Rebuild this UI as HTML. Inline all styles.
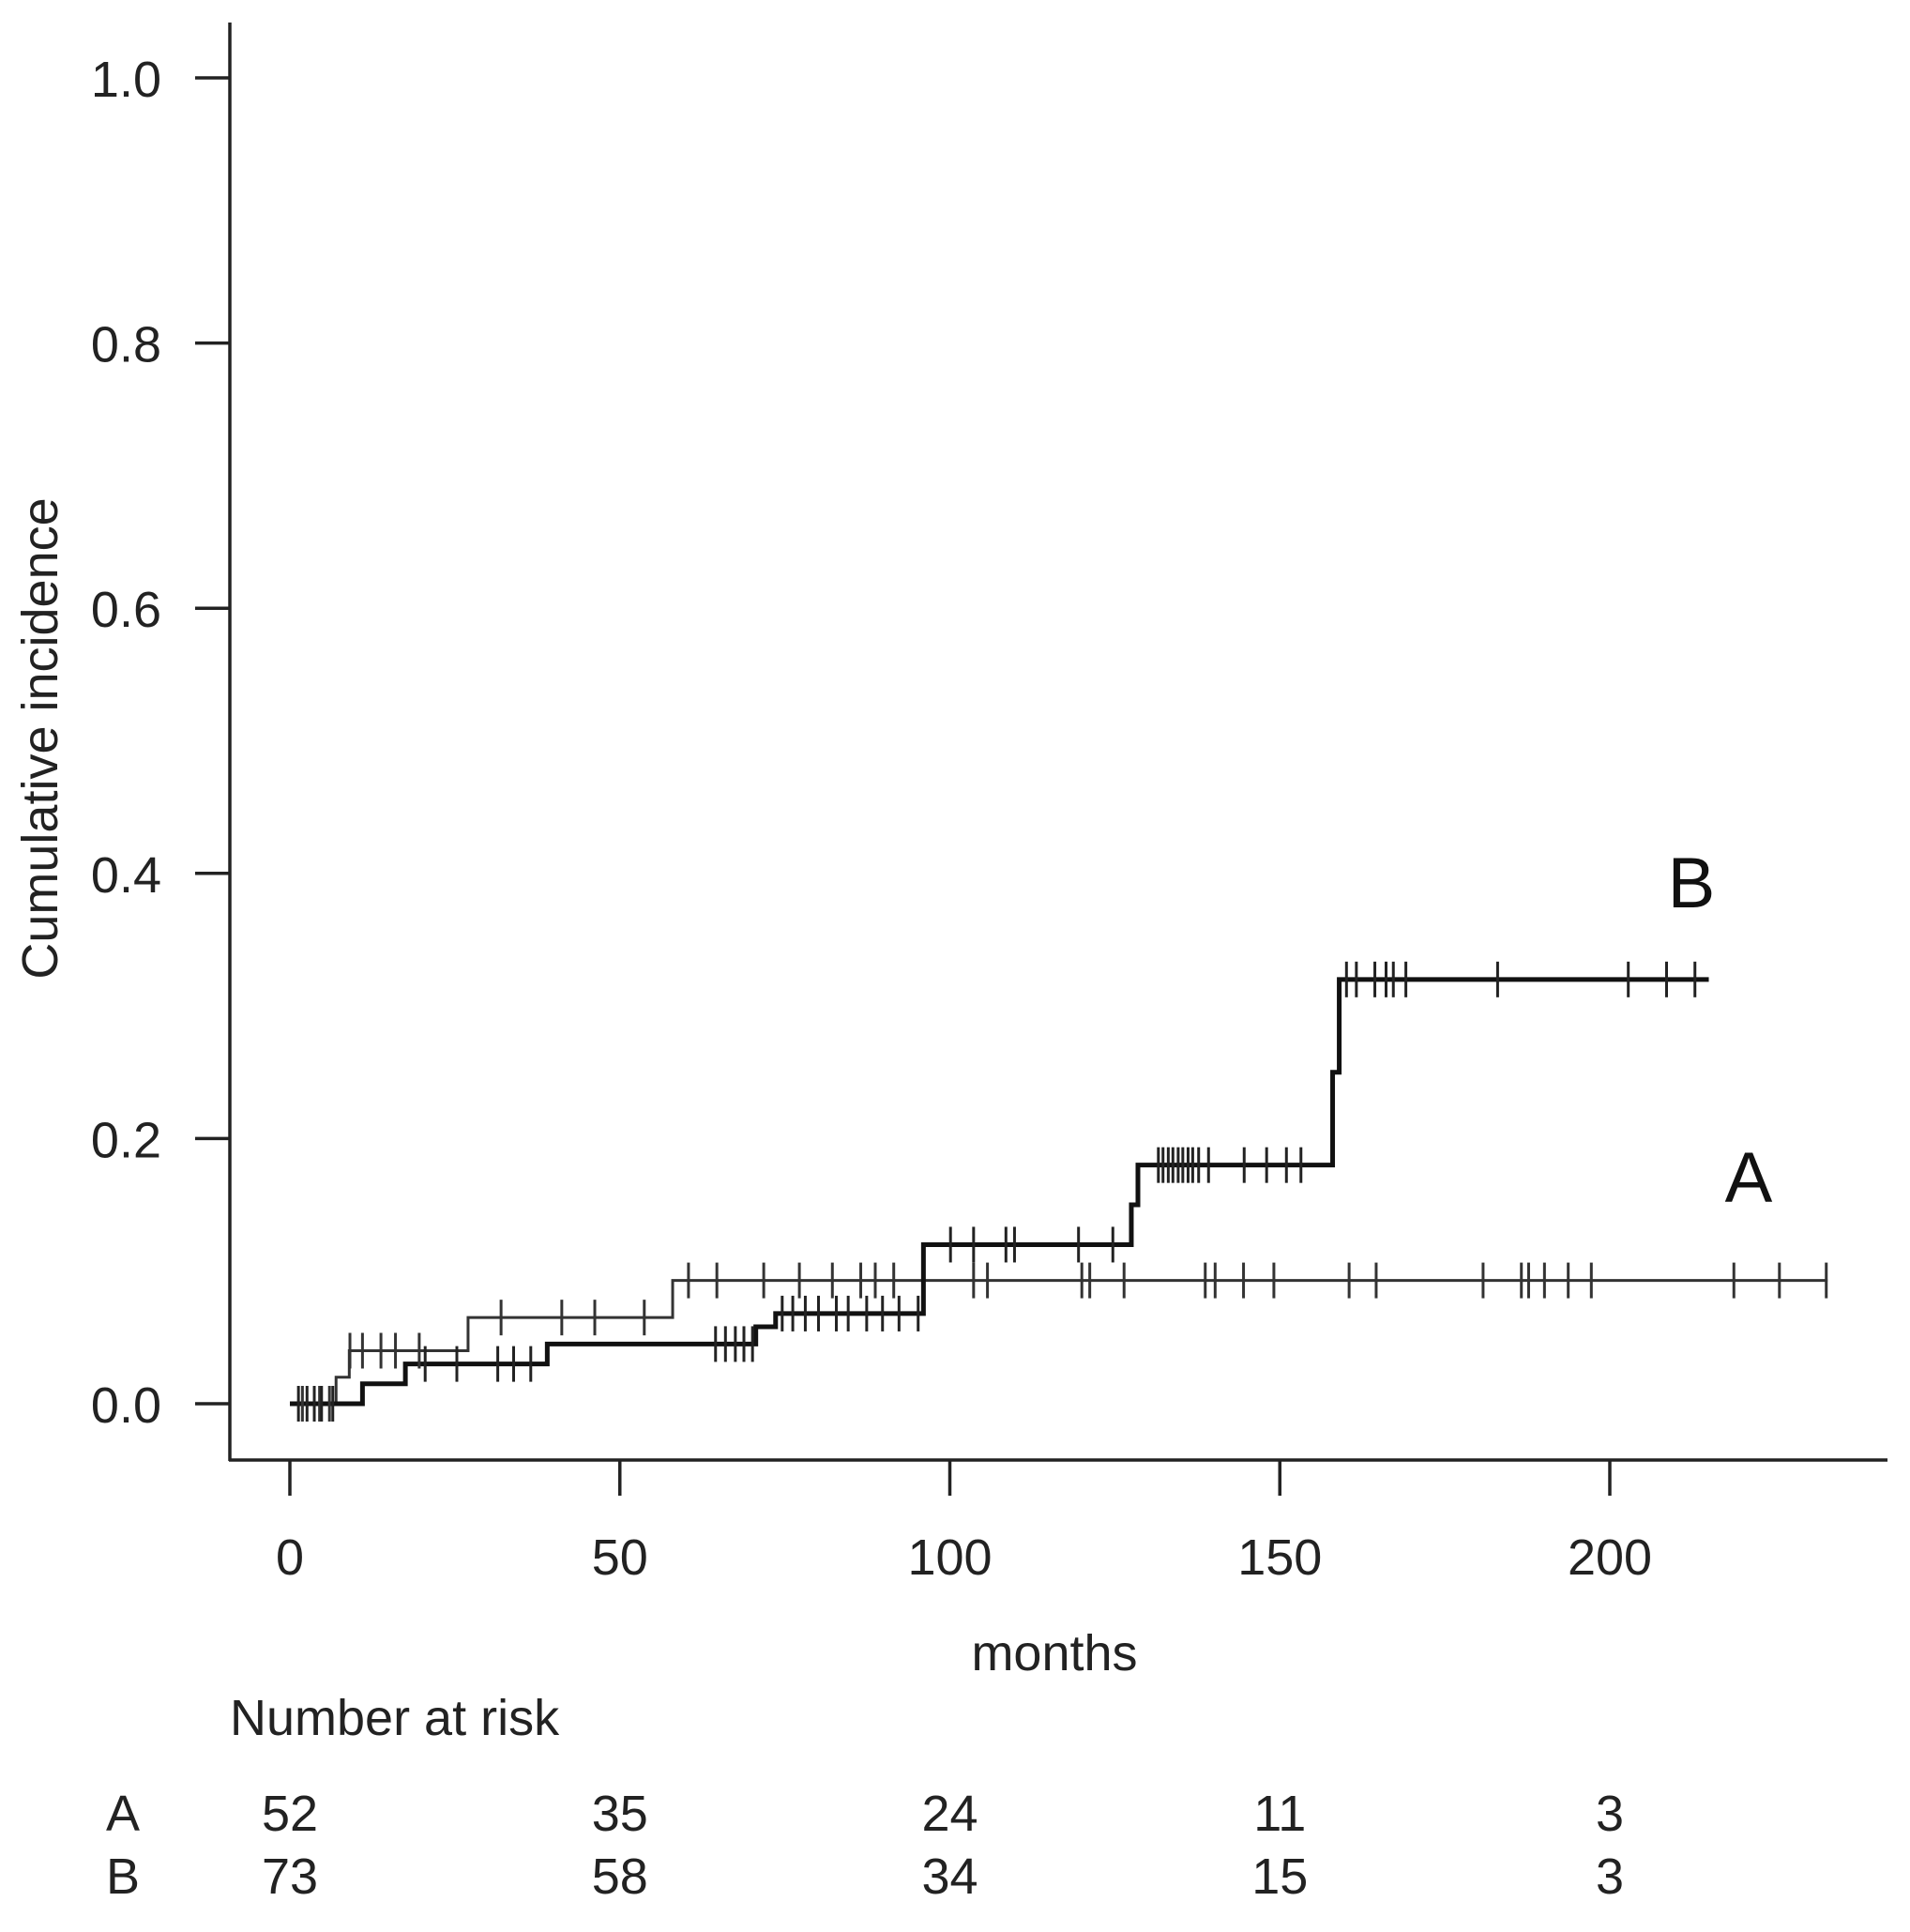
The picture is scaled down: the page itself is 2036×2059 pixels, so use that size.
<!DOCTYPE html>
<html><head><meta charset="utf-8"><style>
html,body{margin:0;padding:0;background:#fff;}
svg{display:block;font-family:"Liberation Sans",Arial,sans-serif;}
</style></head><body>
<svg id="chart" width="2036" height="2059" viewBox="0 0 2036 2059" xmlns="http://www.w3.org/2000/svg">
<g id="axes"></g>
<g id="curves"></g>
<g id="labels"></g>
</svg>
<script>
const xTicks=[0,50,100,150,200];
const yTicks=[0.0,0.2,0.4,0.6,0.8,1.0];
const yTickLabels=["0.0","0.2","0.4","0.6","0.8","1.0"];
const aTimes=[0,7,9,27,58];
const aValues=[0,0.02,0.04,0.065,0.093];
const aEnd=233;
const bTimes=[0,11,17.5,39,70.6,73.6,96,127.5,128.5,158,159];
const bValues=[0,0.015,0.03,0.045,0.058,0.068,0.12,0.15,0.18,0.25,0.32];
const bEnd=215;
const aCensor=[1.9,4.5,6,9.1,11,13.8,16,19.6,32,41.2,46.2,53.7,60.4,64.7,71.8,77.2,82.2,86.5,88.7,91.5,103.6,105.7,120,121.2,126.4,138.7,140.2,144.5,149.1,160.5,164.6,180.8,186.6,187.7,190.1,193.7,197.2,218.8,225.7,232.8];
const bCensor=[1.3,2.6,3.7,4.8,6.5,20.5,25.3,31.5,33.9,36.5,64.5,66,67.5,68.8,70.1,74.6,76.2,78.1,80.1,82.8,84.6,87.4,89.8,92.3,95.2,100.1,103.6,108.5,109.8,119.5,124.7,131.6,132.3,133.1,133.8,134.6,135.3,136.1,136.8,137.7,139.2,144.6,148,151,153.2,160.1,161.6,164.4,166.1,167.2,169.1,183,202.8,208.6,212.9];
const riskGroups=["A","B"];
const riskA=[52,35,24,11,3];
const riskB=[73,58,34,15,3];

const NS="http://www.w3.org/2000/svg";
const X=t=>309+t*7.035;
const Y=v=>1496-v*1413;
const col="#222";
function mk(tag,attrs,parent,text){const e=document.createElementNS(NS,tag);for(const k in attrs)e.setAttribute(k,attrs[k]);if(text!==undefined)e.textContent=text;parent.appendChild(e);return e;}
const axes=document.getElementById('axes'),curves=document.getElementById('curves'),labels=document.getElementById('labels');

let e=mk('line',{x1:245,y1:24,x2:245,y2:1557,stroke:col,'stroke-width':3.5},axes);


e=mk('line',{x1:244,y1:1556,x2:2012,y2:1556,stroke:col,'stroke-width':3.5},axes);


yTicks.forEach((v,i)=>{
 let t=mk('line',{x1:208,y1:Y(v),x2:245,y2:Y(v),stroke:col,'stroke-width':3.5},axes);
 
 
 let l=mk('text',{x:172,y:Y(v)+20,'text-anchor':'end','font-size':54,fill:col},axes,yTickLabels[i]);
 
 
});
xTicks.forEach(v=>{
 let t=mk('line',{x1:X(v),y1:1556,x2:X(v),y2:1594,stroke:col,'stroke-width':3.5},axes);
 
 
 let l=mk('text',{x:X(v),y:1678,'text-anchor':'middle','font-size':54,fill:col},axes,String(v));
 
 
});

function stepPath(times,vals,end){let d=`M${X(times[0])},${Y(vals[0])}`;for(let i=1;i<times.length;i++){d+=` H${X(times[i])} V${Y(vals[i])}`;}d+=` H${X(end)}`;return d;}
function valAt(times,vals,t){let v=vals[0];for(let i=0;i<times.length;i++){if(times[i]<=t)v=vals[i];}return v;}

e=mk('path',{d:stepPath(aTimes,aValues,aEnd),fill:'none',stroke:'#333','stroke-width':3},curves);


e=mk('path',{d:stepPath(bTimes,bValues,bEnd),fill:'none',stroke:'#111','stroke-width':5},curves);


aCensor.forEach(t=>{const v=valAt(aTimes,aValues,t);
 let c=mk('line',{x1:X(t),y1:Y(v)-19,x2:X(t),y2:Y(v)+19,stroke:'#333','stroke-width':3},curves);
 
 
});
bCensor.forEach(t=>{const v=valAt(bTimes,bValues,t);
 let c=mk('line',{x1:X(t),y1:Y(v)-19,x2:X(t),y2:Y(v)+19,stroke:'#222','stroke-width':3},curves);
 
 
});

e=mk('text',{x:1803,y:967,'text-anchor':'middle','font-size':76,fill:'#111'},labels,'B');


e=mk('text',{x:1864,y:1281,'text-anchor':'middle','font-size':76,fill:'#111'},labels,'A');


e=mk('text',{x:1124,y:1780,'text-anchor':'middle','font-size':54,fill:col},labels,'months');


e=mk('text',{x:0,y:0,'text-anchor':'middle','font-size':54,fill:col,transform:'translate(61,787) rotate(-90)'},labels,'Cumulative incidence');


e=mk('text',{x:245,y:1849,'font-size':54,fill:col},labels,'Number at risk');


[riskA,riskB].forEach((row,r)=>{
 const yy=1951+r*67;
 let g=mk('text',{x:131,y:yy,'text-anchor':'middle','font-size':54,fill:col},labels,riskGroups[r]);
 
 
 row.forEach((n,i)=>{
  let c=mk('text',{x:X(xTicks[i]),y:yy,'text-anchor':'middle','font-size':54,fill:col},labels,String(n));
  
  
 });
});
</script>
</body></html>
